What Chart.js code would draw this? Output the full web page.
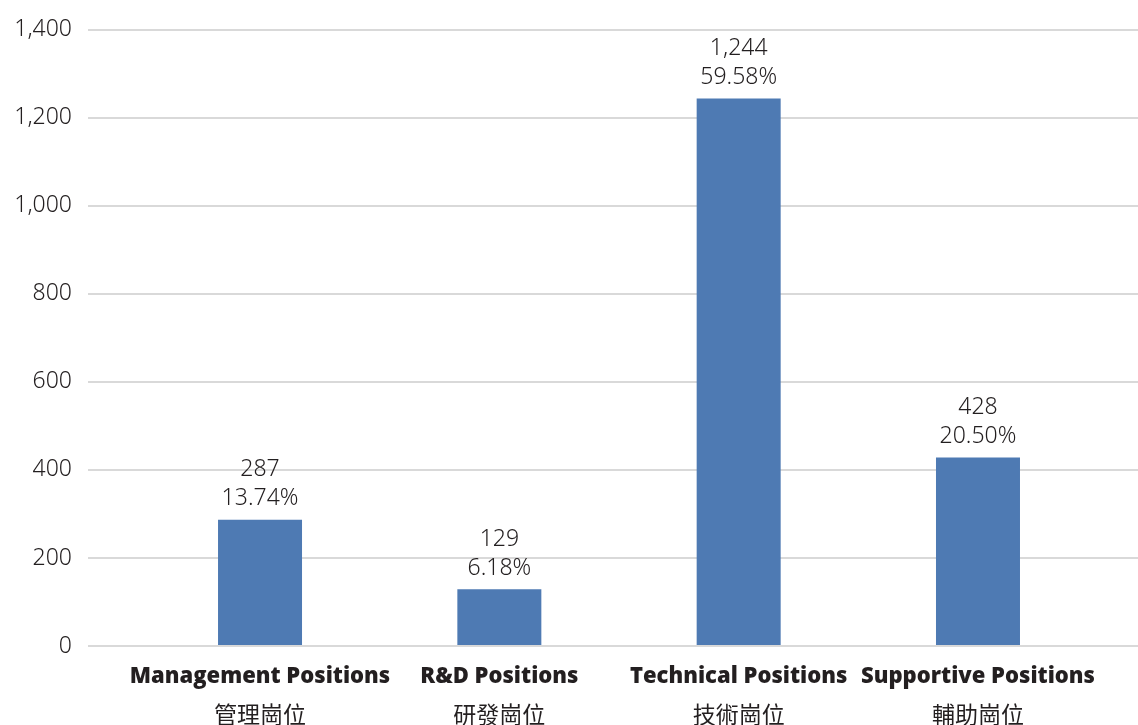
<!DOCTYPE html>
<html>
<head>
<meta charset="utf-8">
<script src="https://cdn.jsdelivr.net/npm/chart.js@4/dist/chart.umd.min.js"></script>
<style>
  html, body { margin: 0; padding: 0; background: #fff; }
  #wrap { width: 1138px; height: 725px; }
</style>
</head>
<body>
<div id="wrap"><canvas id="myChart"></canvas></div>
<script>
var labelsEn = ['Management Positions', 'R&D Positions', 'Technical Positions', 'Supportive Positions'];
var labelsZh = ['管理崗位', '研發崗位', '技術崗位', '輔助崗位'];
var headcount = [287, 129, 1244, 428];
var shares = ['13.74%', '6.18%', '59.58%', '20.50%'];
var yTicks = [0, 200, 400, 600, 800, 1000, 1200, 1400];

var barLabels = {
    id: 'barLabels',
    afterDatasetsDraw: function (chart) {
        var ctx = chart.ctx;
        var meta = chart.getDatasetMeta(0);
        ctx.save();
        ctx.font = '300 23px "Noto Sans", sans-serif';
        ctx.fillStyle = '#231f20';
        ctx.textAlign = 'center';
        ctx.textBaseline = 'middle';
        meta.data.forEach(function (bar, i) {
            ctx.fillText(headcount[i].toLocaleString('en-US'), bar.x, bar.y - 50);
            ctx.fillText(shares[i], bar.x, bar.y - 21);
        });
        ctx.restore();
    }
};

function fixTicks(scale) {
    scale.ticks = [0, 1, 2, 3].map(function (v) { return { value: v }; });
}

var ctx = document.getElementById('myChart').getContext('2d');
var myChart = new Chart(ctx, {
    type: 'bar',
    data: {
        datasets: [{
            label: 'Headcount',
            data: headcount.map(function (v, i) { return { x: i, y: v }; }),
            backgroundColor: '#4e7ab3',
            borderWidth: 0,
            barPercentage: 0.351,
            categoryPercentage: 1
        }]
    },
    plugins: [barLabels],
    options: {
        responsive: true,
        maintainAspectRatio: false,
        animation: false,
        layout: { padding: { top: 26, right: 0, left: 0, bottom: 0 } },
        plugins: {
            legend: { display: false },
            tooltip: { enabled: false }
        },
        scales: {
            x: {
                type: 'linear',
                position: 'bottom',
                weight: 0,
                offset: false,
                min: -0.7188,
                max: 3.6686,
                afterBuildTicks: fixTicks,
                afterFit: function (s) { s.height = 46; },
                grid: { display: false },
                border: { display: false },
                ticks: {
                    autoSkip: false,
                    maxRotation: 0,
                    padding: 10,
                    color: '#231f20',
                    font: { family: '"Open Sans", sans-serif', size: 22, weight: '800' },
                    callback: function (v) { return labelsEn[v]; }
                }
            },
            x2: {
                type: 'linear',
                position: 'bottom',
                weight: 1,
                offset: false,
                min: -0.7188,
                max: 3.6686,
                afterBuildTicks: fixTicks,
                afterFit: function (s) { s.height = 33; },
                grid: { display: false },
                border: { display: false },
                ticks: {
                    autoSkip: false,
                    maxRotation: 0,
                    padding: 0,
                    color: '#231f20',
                    font: { family: '"Noto Sans CJK TC", sans-serif', size: 23 },
                    callback: function (v) { return labelsZh[v]; }
                }
            },
            y: {
                min: 0,
                max: 1400,
                afterBuildTicks: function (s) {
                    s.ticks = yTicks.map(function (v) { return { value: v }; });
                },
                afterFit: function (s) { s.width = 88; },
                border: { display: false },
                grid: { color: '#d9d9d9', lineWidth: 2, drawTicks: false },
                ticks: {
                    padding: 16,
                    color: '#231f20',
                    font: { family: '"Noto Sans", sans-serif', size: 23, weight: '300' },
                    callback: function (v) { return v.toLocaleString('en-US'); }
                }
            }
        }
    }
});
</script>
</body>
</html>
